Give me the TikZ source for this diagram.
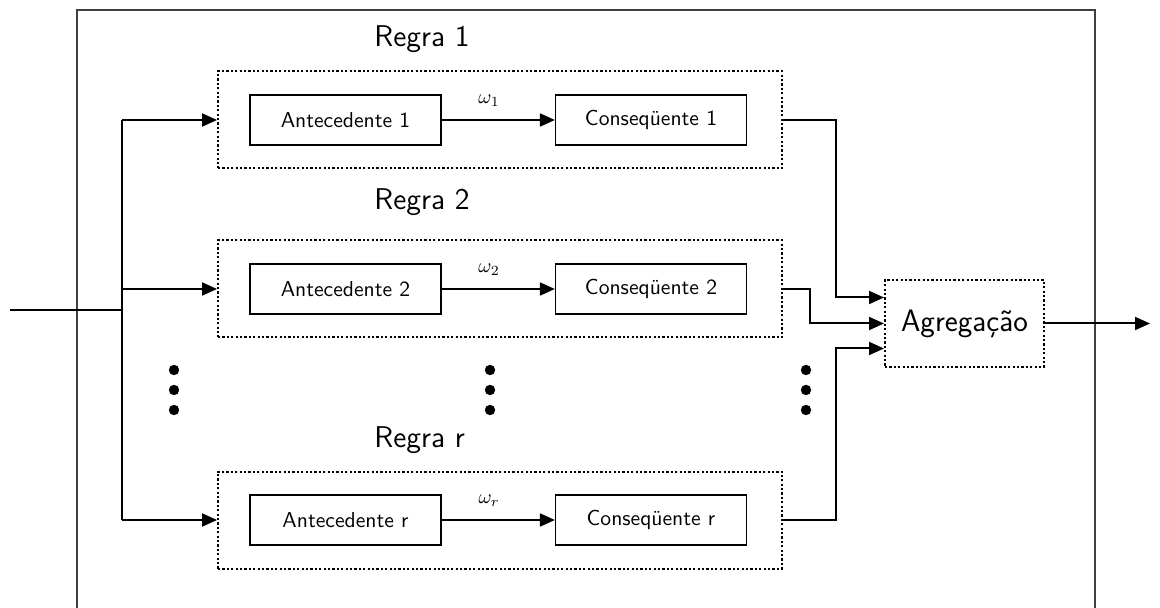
\documentclass[tikz,border=0pt]{standalone}
\usepackage{fontspec}
\usetikzlibrary{arrows.meta}
\tikzset{
  line/.style={line width=1pt},
  arrow/.style={line width=1pt,-{Triangle[length=7.5pt,width=6.5pt]}},
  dotline/.style={draw,line width=1pt,dash pattern=on 1.1pt off 1.1pt},
  rulebox/.style={dotline,minimum width=282pt,minimum height=48.5pt},
  innerbox/.style={draw,line width=0.65pt,minimum width=95.5pt,minimum height=25pt,font=\sffamily\fontsize{10.8}{12}\selectfont},
  rulelabel/.style={anchor=base west,inner sep=0pt,font=\sffamily\fontsize{15}{18}\selectfont},
  aggbox/.style={dotline,minimum width=79.5pt,minimum height=43.5pt,font=\sffamily\fontsize{15.5}{18}\selectfont}
}
\begin{document}
\begin{tikzpicture}[x=0.5pt,y=-0.5pt]
    \useasboundingbox (0,0) rectangle (1160,608);
    \draw[line width=0.7pt,black!75] (77,608) -- (77,10) -- (1095,10) -- (1095,608);
    % regras
    \foreach \k/\yy/\ly in {1/120/47,2/289/210,r/520/447} {
      \node[rulebox] (regra\k) at (500,\yy) {};
      \node[innerbox] (ant\k) at (345.5,\yy) {Antecedente \k};
      \node[innerbox] (cons\k) at (651,\yy) {Conseqüente \k};
      \draw[arrow] (ant\k) -- node[above=3pt,pos=0.42] {$\omega_\k$} (cons\k);
      \node[rulelabel] at (374,\ly) {Regra \k};
    }
    \foreach \xx in {174,490,806}
      \foreach \yy in {370,390,410} \fill (\xx,\yy) circle (2.6pt);
    % entrada
    \coordinate (in) at (10,310);
    \coordinate (split) at (122,310);
    \draw[line] (in) -- (split);
    \draw[line] (split |- regra1.west) -- (split |- regrar.west);
    \foreach \k in {1,2,r} \draw[arrow] (split |- regra\k.west) -- (regra\k.west);
    % agregacao
    \node[aggbox] (agg) at (964.5,323.5) {Agregação};
    \draw[arrow] (regra1.east) -- ++(53,0) |- ([yshift=13pt]agg.west);
    \draw[arrow] (regra2.east) -- ++(27,0) |- (agg.west);
    \draw[arrow] (regrar.east) -- ++(53,0) |- ([yshift=-12.5pt]agg.west);
    \coordinate (out) at (1150,323.5);
    \draw[arrow] (agg) -- (out);
  \end{tikzpicture}
\end{document}
